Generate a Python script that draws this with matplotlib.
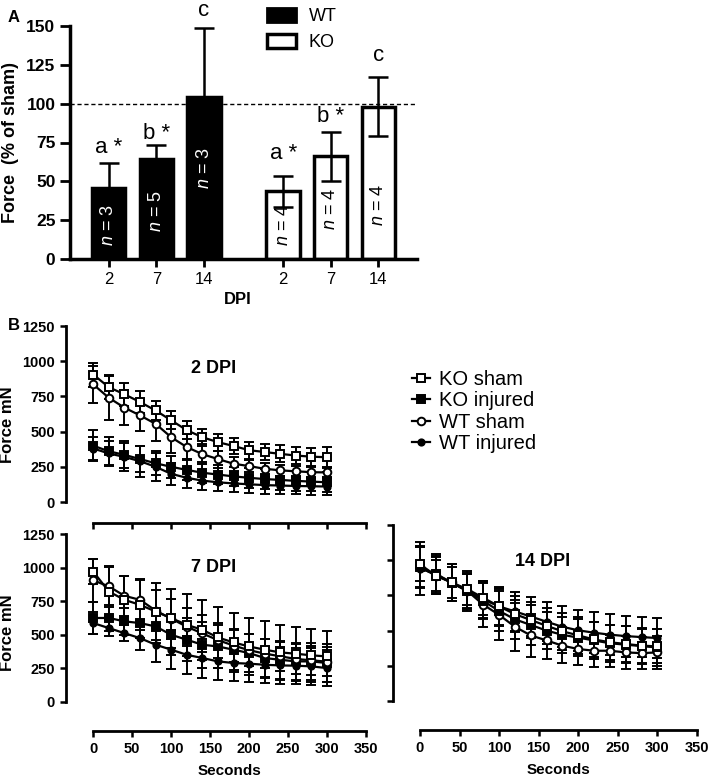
import matplotlib
matplotlib.use("Agg")
import matplotlib.pyplot as plt
from matplotlib.lines import Line2D
from matplotlib.patches import Patch

plt.rcParams['font.family'] = ['Liberation Sans', 'DejaVu Sans']
plt.rcParams['mathtext.fontset'] = 'custom'
plt.rcParams['mathtext.it'] = 'Liberation Sans:italic'
plt.rcParams['mathtext.rm'] = 'Liberation Sans'

# ---- Panel A data ----
dpi_labels = ["2", "7", "14", "2", "7", "14"]
bar_pos = [0, 1, 2, 3.66, 4.66, 5.66]
wt_force = [46, 64.5, 104.5]
wt_err = [16, 9, 44.5]
ko_force = [43.5, 66, 98]
ko_err = [10, 16, 19]
n_labels = ["3", "5", "3", "4", "4", "4"]
n_ypos = [21.5, 31, 58.6, 22, 32.5, 35]
sig_labels = ["a *", "b *", "c", "a *", "b *", "c"]
sig_ypos = [72, 81, 160, 68, 91.5, 131]

# ---- Panel B data ----
t = [0, 20, 40, 60, 80, 100, 120, 140, 160, 180, 200, 220, 240, 260, 280, 300]

ko_sham_2 = [905, 815, 765, 710, 650, 580, 510, 460, 425, 398, 368, 355, 342, 330, 322, 318]
ko_sham_2_err = [85, 80, 80, 75, 70, 65, 65, 60, 60, 60, 60, 60, 60, 60, 65, 70]
ko_inj_2 = [400, 360, 335, 305, 275, 250, 228, 208, 195, 182, 172, 163, 157, 150, 145, 140]
ko_inj_2_err = [110, 100, 95, 90, 85, 80, 75, 75, 70, 70, 70, 70, 70, 70, 70, 70]
wt_sham_2 = [835, 740, 670, 615, 555, 460, 390, 340, 305, 272, 255, 236, 225, 218, 212, 210]
wt_sham_2_err = [130, 160, 125, 110, 120, 110, 90, 70, 60, 50, 45, 40, 38, 35, 35, 35]
wt_inj_2 = [380, 345, 320, 290, 250, 200, 172, 152, 140, 132, 126, 120, 117, 114, 112, 110]
wt_inj_2_err = [85, 90, 100, 110, 100, 80, 70, 65, 60, 60, 60, 60, 60, 60, 60, 60]

ko_sham_7 = [970, 822, 760, 723, 673, 624, 574, 537, 480, 443, 413, 389, 369, 359, 347, 339]
ko_sham_7_err = [95, 180, 180, 190, 210, 220, 230, 225, 225, 220, 215, 210, 205, 200, 195, 190]
ko_inj_7 = [625, 625, 600, 587, 562, 500, 463, 426, 413, 389, 364, 327, 314, 302, 302, 290]
ko_inj_7_err = [120, 100, 100, 110, 120, 150, 160, 170, 160, 150, 140, 140, 140, 140, 140, 140]
wt_sham_7 = [905, 860, 790, 760, 680, 620, 560, 510, 460, 420, 385, 360, 340, 320, 310, 300]
wt_sham_7_err = [160, 150, 150, 150, 150, 150, 140, 140, 130, 120, 120, 110, 110, 110, 110, 110]
wt_inj_7 = [587, 550, 512, 475, 426, 389, 351, 327, 302, 290, 285, 277, 272, 270, 265, 252]
wt_inj_7_err = [80, 60, 60, 90, 125, 145, 140, 145, 140, 135, 135, 135, 135, 135, 135, 135]

ko_sham_14 = [971, 891, 842, 794, 733, 672, 617, 575, 534, 495, 466, 437, 417, 405, 393, 388]
ko_sham_14_err = [120, 110, 110, 110, 120, 130, 130, 130, 130, 130, 130, 125, 125, 125, 120, 120]
ko_inj_14 = [950, 900, 840, 780, 710, 640, 580, 540, 500, 470, 450, 430, 410, 400, 390, 380]
ko_inj_14_err = [150, 130, 130, 120, 130, 140, 140, 140, 130, 130, 130, 130, 130, 130, 130, 130]
wt_sham_14 = [951, 891, 842, 781, 684, 612, 527, 466, 430, 393, 369, 357, 357, 345, 340, 345]
wt_sham_14_err = [140, 130, 130, 140, 160, 180, 170, 150, 130, 120, 115, 115, 115, 115, 115, 115]
wt_inj_14 = [940, 903, 842, 781, 721, 672, 636, 600, 563, 527, 502, 485, 471, 461, 454, 447]
wt_inj_14_err = [190, 140, 130, 130, 130, 140, 140, 140, 140, 145, 145, 145, 145, 145, 145, 145]

W, H = 709, 778


def box(l, t_, r, b):
    return [l / W, 1 - b / H, (r - l) / W, (b - t_) / H]


fig = plt.figure(figsize=(W / 100, H / 100), dpi=100)

# ================= Panel A =================
axA = fig.add_axes(box(70, 26, 417, 259))
colors = ["black"] * 3 + ["white"] * 3
vals = wt_force + ko_force
errs = wt_err + ko_err
axA.bar(bar_pos, vals, width=0.70, color=colors, edgecolor="black", linewidth=2.5, zorder=2)
axA.errorbar(bar_pos, vals, yerr=errs, fmt="none", ecolor="black", elinewidth=1.8,
             capsize=7, capthick=1.8, zorder=3)
axA.axhline(100, color="black", lw=1, dashes=(3, 2), zorder=1)
for i, p in enumerate(bar_pos):
    c = "white" if i < 3 else "black"
    axA.text(p, n_ypos[i], r"$n$ = " + n_labels[i], rotation=90, ha="center", va="center",
             color=c, fontsize=13, zorder=4)
    axA.text(p, sig_ypos[i], sig_labels[i], ha="center", va="center", fontsize=16,
             clip_on=False)
axA.set_xlim(-0.815, 6.47)
axA.set_ylim(0, 150)
axA.set_yticks([0, 25, 50, 75, 100, 125, 150])
axA.set_xticks(bar_pos)
axA.set_xticklabels(dpi_labels, fontsize=12)
for lab in axA.get_yticklabels():
    lab.set_fontweight("bold")
    lab.set_fontsize(12.5)
axA.spines["top"].set_visible(False)
axA.spines["right"].set_visible(False)
axA.spines["left"].set_linewidth(2.5)
axA.spines["bottom"].set_linewidth(2.5)
axA.tick_params(axis="y", width=2, length=7, pad=3.5)
axA.tick_params(axis="x", width=2, length=5.5, pad=3.5)
axA.set_ylabel("Force  (% of sham)", fontsize=13, fontweight="bold", labelpad=5.5)
axA.set_xlabel("DPI", fontsize=12, fontweight="bold", labelpad=4)
axA.xaxis.label.set_x((2.7 + 0.815) / (6.47 + 0.815))
axA.legend(handles=[Patch(facecolor="black", edgecolor="black", lw=2, label="WT"),
                    Patch(facecolor="white", edgecolor="black", lw=2.5, label="KO")],
           loc="upper left", bbox_to_anchor=(267 / W, 1 - 8 / H), bbox_transform=fig.transFigure,
           frameon=False, fontsize=13, handlelength=1.6, handleheight=0.85,
           labelspacing=0.45, handletextpad=0.7, borderaxespad=0, borderpad=0)
fig.text(8 / W, 1 - 17 / H, "A", fontsize=12, fontweight="bold", va="center")
fig.text(8 / W, 1 - 326 / H, "B", fontsize=12, fontweight="bold", va="center")

# ================= Panel B =================
styles = {
    "ko_sham": dict(marker="s", mfc="white", ms=5.5),
    "ko_inj": dict(marker="s", mfc="black", ms=5.5),
    "wt_sham": dict(marker="o", mfc="white", ms=5.5),
    "wt_inj": dict(marker="o", mfc="black", ms=4.5),
}


def draw_series(ax, y, e, key):
    st = styles[key]
    ax.errorbar(t, y, yerr=e, color="black", lw=1.6, elinewidth=1.4, capsize=3.5,
                capthick=1.4, marker=st["marker"], mfc=st["mfc"], mec="black",
                ms=st["ms"], mew=1.4, clip_on=False)


def style_b(ax, xlim_low, ylim_low, xlabels=True, ylabels=True, xlabel=None):
    ax.set_xlim(xlim_low, 350)
    ax.set_ylim(ylim_low, 1250)
    ax.spines["top"].set_visible(False)
    ax.spines["right"].set_visible(False)
    ax.spines["left"].set_bounds(0, 1250)
    ax.spines["bottom"].set_bounds(0, 350)
    ax.spines["left"].set_linewidth(2)
    ax.spines["bottom"].set_linewidth(2)
    ax.set_yticks([0, 250, 500, 750, 1000, 1250])
    ax.set_xticks([0, 50, 100, 150, 200, 250, 300, 350])
    ax.tick_params(width=1.8, length=4.5, labelsize=10.5)
    for lab in ax.get_xticklabels() + ax.get_yticklabels():
        lab.set_fontweight("bold")
    if not xlabels:
        ax.set_xticklabels([])
    if not ylabels:
        ax.set_yticklabels([])
    else:
        ax.set_ylabel("Force mN", fontsize=12, fontweight="bold", labelpad=5)
    if xlabel:
        ax.set_xlabel(xlabel, fontsize=11, fontweight="bold", labelpad=6)
        ax.xaxis.label.set_x((175 - xlim_low) / (350 - xlim_low))


ax2 = fig.add_axes(box(66, 326, 366, 523))
ax7 = fig.add_axes(box(66, 534, 366, 731))
ax14 = fig.add_axes(box(393, 525, 697, 730))

draw_series(ax2, wt_inj_2, wt_inj_2_err, "wt_inj")
draw_series(ax2, ko_inj_2, ko_inj_2_err, "ko_inj")
draw_series(ax2, wt_sham_2, wt_sham_2_err, "wt_sham")
draw_series(ax2, ko_sham_2, ko_sham_2_err, "ko_sham")
style_b(ax2, -35, -149, xlabels=False)
ax2.text(155, 950, "2 DPI", fontsize=13, fontweight="bold", ha="center", va="center")

draw_series(ax7, wt_inj_7, wt_inj_7_err, "wt_inj")
draw_series(ax7, ko_inj_7, ko_inj_7_err, "ko_inj")
draw_series(ax7, wt_sham_7, wt_sham_7_err, "wt_sham")
draw_series(ax7, ko_sham_7, ko_sham_7_err, "ko_sham")
style_b(ax7, -35, -216, xlabel="Seconds")
ax7.text(155, 1000, "7 DPI", fontsize=13, fontweight="bold", ha="center", va="center")

draw_series(ax14, wt_sham_14, wt_sham_14_err, "wt_sham")
draw_series(ax14, ko_inj_14, ko_inj_14_err, "ko_inj")
draw_series(ax14, wt_inj_14, wt_inj_14_err, "wt_inj")
draw_series(ax14, ko_sham_14, ko_sham_14_err, "ko_sham")
style_b(ax14, -34, -206, ylabels=False, xlabel="Seconds")
ax14.text(155, 990, "14 DPI", fontsize=13, fontweight="bold", ha="center", va="center")

leg_handles = []
for key, lab in [("ko_sham", "KO sham"), ("ko_inj", "KO injured"),
                 ("wt_sham", "WT sham"), ("wt_inj", "WT injured")]:
    st = styles[key]
    leg_handles.append(Line2D([], [], color="black", lw=1.6, marker=st["marker"],
                              mfc=st["mfc"], mec="black", ms=st["ms"], mew=1.4, label=lab))
fig.legend(handles=leg_handles, loc="upper left", bbox_to_anchor=(412 / W, 1 - 370 / H),
           frameon=False, fontsize=14.5, handlelength=0.9, handletextpad=0.45,
           labelspacing=0.12, borderpad=0, borderaxespad=0)

fig.savefig("out.png", dpi=100)
